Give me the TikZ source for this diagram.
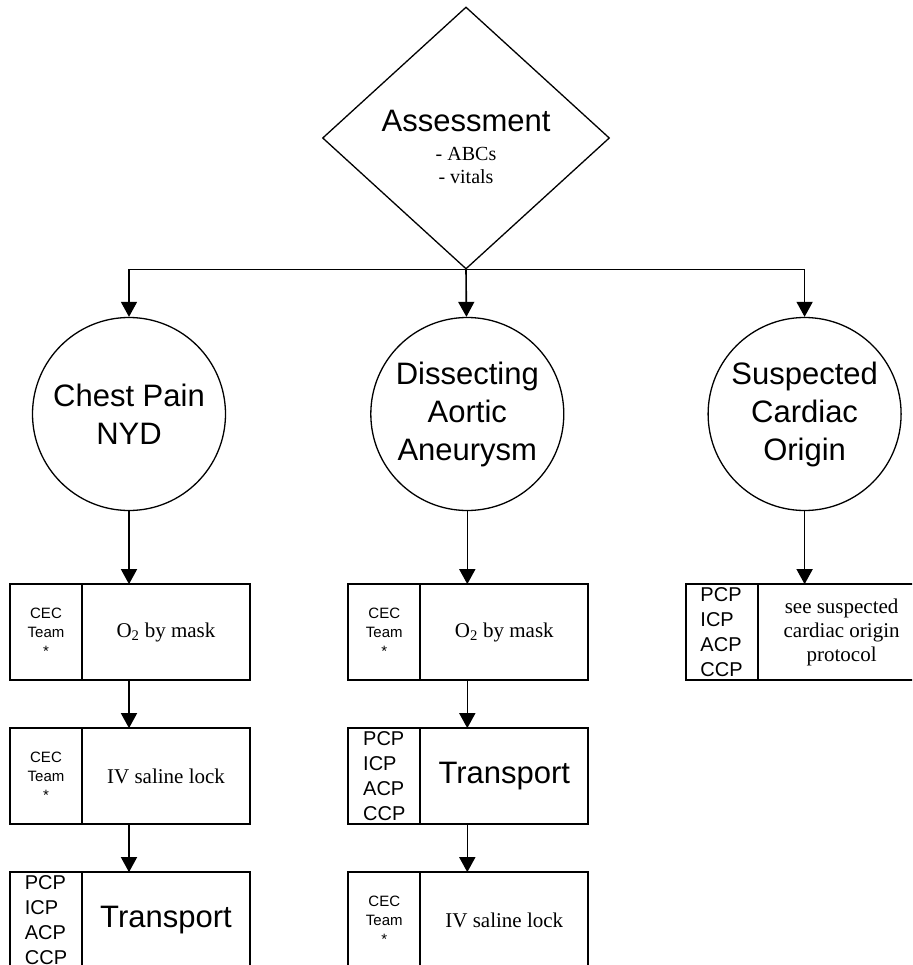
\documentclass[tikz,border=0pt]{standalone}
\usepackage{fontspec}
\setmainfont{Liberation Serif}
\setsansfont{Liberation Sans}
\usetikzlibrary{positioning, arrows.meta, shapes.geometric}

\begin{document}
\begin{tikzpicture}[x=1pt, y=-1pt, node distance=48pt,
  decision/.style={diamond, draw, line width=1.3pt, minimum width=287pt, minimum height=262pt, inner sep=0pt, align=center, font=\fontsize{20}{23}\selectfont},
  cause/.style={circle, draw, line width=1.3pt, minimum size=193pt, inner sep=0pt, align=center, font=\sffamily\fontsize{31}{38}\selectfont},
  task/.style={rectangle, draw, line width=1.8pt, minimum width=168pt, minimum height=96pt, inner sep=0pt, outer sep=0pt, align=center, font=\fontsize{21}{24}\selectfont},
  crew/.style={rectangle, draw, line width=1.8pt, minimum width=72pt, minimum height=96pt, inner sep=0pt, outer sep=0pt, align=center, font=\sffamily\fontsize{15}{19}\selectfont},
  level/.style={crew, align=left, font=\sffamily\fontsize{20}{25}\selectfont},
  flow/.style={-{Triangle[length=15pt,width=16pt]}, line width=1.6pt}]
	\useasboundingbox (0,0) rectangle (912,965);
	\clip (0,0) rectangle (912,965);

	\node[decision, text height=92pt] (D0) at (466,138) {{\sffamily\fontsize{31}{36}\selectfont Assessment}\\[6pt]
		- ABCs\\- vitals};

	\node[cause] (C1) at (129,414) {Chest Pain\\NYD};
	\node[cause, right = 144pt of C1] (C2) {Dissecting\\Aortic\\Aneurysm};
	\node[cause, right = 143pt of C2] (C3) {Suspected\\Cardiac\\Origin};

	% chest pain column
	\node[task, below = 73pt of C1, xshift=37pt] (T11) {O\textsubscript{2} by mask};
	\node[crew, left = 0pt of T11] (R11) {CEC\\Team\\*};
	\node[task, below = 48pt of T11] (T12) {IV saline lock};
	\node[crew, left = 0pt of T12] (R12) {CEC\\Team\\*};
	\node[task, below = 48pt of T12, font=\sffamily\fontsize{31}{36}\selectfont] (T13) {Transport};
	\node[level, left = 0pt of T13] (R13) {PCP\\ICP\\ACP\\CCP};

	% aneurysm column
	\node[task, below = 73pt of C2, xshift=37pt] (T21) {O\textsubscript{2} by mask};
	\node[crew, left = 0pt of T21] (R21) {CEC\\Team\\*};
	\node[task, below = 48pt of T21, font=\sffamily\fontsize{31}{36}\selectfont] (T22) {Transport};
	\node[level, left = 0pt of T22] (R22) {PCP\\ICP\\ACP\\CCP};
	\node[task, below = 48pt of T22] (T23) {IV saline lock};
	\node[crew, left = 0pt of T23] (R23) {CEC\\Team\\*};

	% cardiac column
	\node[task, below = 73pt of C3, xshift=37pt] (T31) {see suspected\\cardiac origin\\protocol};
	\node[level, left = 0pt of T31] (R31) {PCP\\ICP\\ACP\\CCP};

	\draw[flow] (D0.south) -| (C1);
	\draw[flow] (D0.south) -- (C2);
	\draw[flow] (D0.south) -| (C3);

	\draw[flow] (C1) -- (C1 |- T11.north);
	\draw[flow] (C1 |- T11.south) -- (C1 |- T12.north);
	\draw[flow] (C1 |- T12.south) -- (C1 |- T13.north);
	\draw[flow] (C2) -- (C2 |- T21.north);
	\draw[flow] (C2 |- T21.south) -- (C2 |- T22.north);
	\draw[flow] (C2 |- T22.south) -- (C2 |- T23.north);
	\draw[flow] (C3) -- (C3 |- T31.north);

\end{tikzpicture}
\end{document}
